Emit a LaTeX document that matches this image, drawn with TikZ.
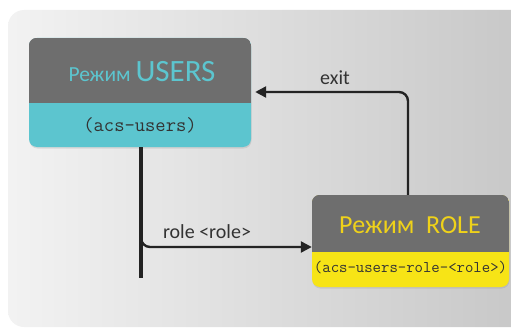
\documentclass[tikz,border=0pt]{standalone}
\usepackage{fontspec}
\setmainfont{Carlito}
\usetikzlibrary{arrows.meta,positioning,shadows}
\definecolor{boxgray}{HTML}{6E6E6E}
\definecolor{usersteal}{HTML}{5CC5CF}
\definecolor{roleyellow}{HTML}{F7E416}
\definecolor{roletext}{HTML}{EFD21A}
\definecolor{linedark}{HTML}{232323}

\begin{document}
\begin{tikzpicture}
[x=1pt,y=-1pt,
>={Triangle[length=11pt,width=11pt]},
modebox/.style={rounded corners=8pt, inner sep=0pt,
  drop shadow={opacity=0.2, shadow xshift=0.5pt, shadow yshift=-1.5pt}},
codetext/.style={inner sep=0pt, text=black!80},
flow/.style={line width=2.4pt, draw=linedark, rounded corners=9pt},
trunk/.style={line width=4pt, draw=linedark},
cmdlabel/.style={inner sep=0pt, text=black!80, font=\fontsize{20}{24}\selectfont}]
  \useasboundingbox (0,0) rectangle (511,329);
  \shade [left color=black!5, right color=black!22, rounded corners=16pt] (8,10) rectangle (530,327);
  % USERS mode
  \node [modebox, fill=usersteal, minimum width=222pt, minimum height=109pt] (users) at (140,92.5) {};
  \begin{scope}
    \clip [rounded corners=8pt] (users.south west) rectangle (users.north east);
    \fill [boxgray] (users.north west) rectangle (users.east |- 0,103);
  \end{scope}
  \node [inner sep=0pt, text=usersteal] (usersname) at (142,72)
    {\fontsize{21.5}{24}\selectfont Режим {\fontsize{31}{34}\selectfont USERS}};
  \node [codetext, font=\ttfamily\fontsize{20}{22}\selectfont] (userscode) at (140,125) {(acs-users)};
  % ROLE mode
  \node [modebox, fill=roleyellow, minimum width=197pt, minimum height=92pt] (role) at (410.5,241) {};
  \begin{scope}
    \clip [rounded corners=8pt] (role.south west) rectangle (role.north east);
    \fill [boxgray] (role.north west) rectangle (role.east |- 0,252);
  \end{scope}
  \node [inner sep=0pt, text=roletext, font=\fontsize{26}{30}\selectfont] (rolename) at (410,225) {Режим\ \ ROLE};
  \node [codetext, font=\ttfamily\fontsize{16.3}{18}\selectfont] (rolecode) at (410.5,268) {(acs-users-role-<role>)};
  % transitions
  \coordinate (trunkend) at (141,278);
  \draw [trunk] (users.south -| trunkend) -- (trunkend);
  \draw [flow, ->] (trunkend |- 0,232) |- ([yshift=-6pt]role.west);
  \node [cmdlabel] (rolecmd) at (207,232) {role <role>};
  \draw [flow, ->, shorten >=4pt] (role.north -| 408,0) |- (users.east |- 0,92);
  \node [cmdlabel] (exitcmd) at (335,78) {exit};
\end{tikzpicture}
\end{document}
